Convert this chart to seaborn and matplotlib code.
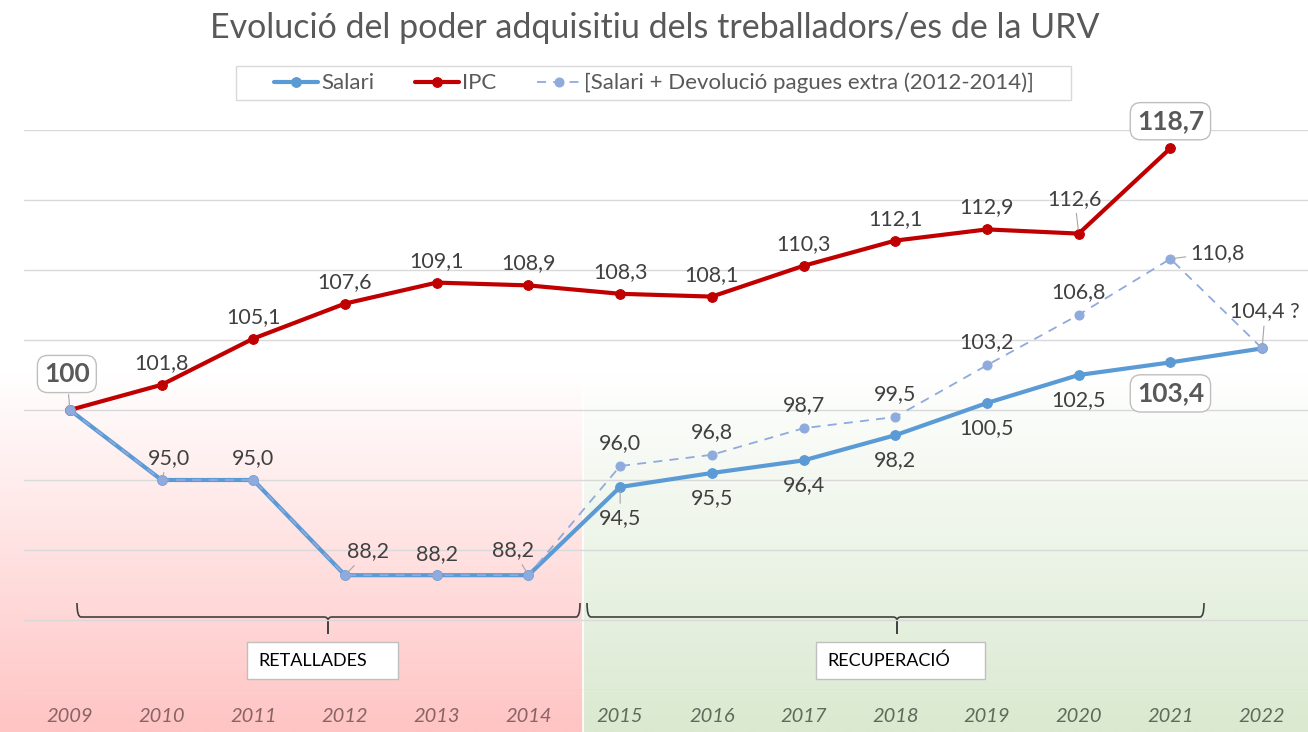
import numpy as np
import matplotlib
matplotlib.use('Agg')
import matplotlib.pyplot as plt
import matplotlib.colors as mcolors
import seaborn as sns
from matplotlib.path import Path
from matplotlib.patches import PathPatch, Rectangle

# ---------------- data ----------------
years = list(range(2009, 2023))
salari = [100, 95.0, 95.0, 88.2, 88.2, 88.2, 94.5, 95.5, 96.4, 98.2, 100.5, 102.5, 103.4, 104.4]
ipc = [100, 101.8, 105.1, 107.6, 109.1, 108.9, 108.3, 108.1, 110.3, 112.1, 112.9, 112.6, 118.7]
salari_extra = [100, 95.0, 95.0, 88.2, 88.2, 88.2, 96.0, 96.8, 98.7, 99.5, 103.2, 106.8, 110.8, 104.4]
tick_labels = [str(y) for y in years]
series_names = ["Salari", "IPC", "[Salari + Devolució pagues extra (2012-2014)]"]
title = "Evolució del poder adquisitiu dels treballadors/es de la URV"
periods = ["RETALLADES", "RECUPERACIÓ"]

BLUE = '#5B9BD5'
RED = '#C00000'
LBLUE = '#8FAADC'
LABEL_C = '#404040'

sns.set_theme(style='white')
plt.rcParams['font.family'] = ['Lato', 'DejaVu Sans']

W, H = 1308, 732
fig = plt.figure(figsize=(W / 100, H / 100), dpi=100)
fig.patch.set_facecolor('white')

# ---------------- background (pixel coords) ----------------
bg = fig.add_axes([0, 0, 1, 1], zorder=0)
bg.axis('off')


def grad(x0, x1, y0, y1, c):
    t = np.linspace(0, 1, 256)[:, None, None]
    rgb = np.array(mcolors.to_rgb(c))[None, None, :]
    img = 1 - t * (1 - rgb)
    bg.imshow(img, extent=(x0, x1, y1, y0), aspect='auto', interpolation='bilinear')


DIV = 583
grad(0, DIV, 370, H, '#FFC4C4')
grad(DIV, W, 370, H, '#DAE9D0')
bg.plot([DIV, DIV], [390, H], color='white', lw=1.2)


def brace(x0, x1, xm, ytop, yl, yb):
    r = 4
    codes = [Path.MOVETO, Path.CURVE3, Path.CURVE3, Path.LINETO, Path.CURVE3, Path.CURVE3, Path.LINETO]
    v1 = [(x0, ytop), (x0, yl), (x0 + r, yl), (xm - r, yl), (xm, yl), (xm, yl + r), (xm, yb)]
    v2 = [(x1, ytop), (x1, yl), (x1 - r, yl), (xm + r, yl), (xm, yl), (xm, yl + r), (xm, yb)]
    for v in (v1, v2):
        bg.add_patch(PathPatch(Path(v, codes), fc='none', ec='#404040', lw=1.2))


brace(77, 580, 328, 603, 617, 634)
brace(587, 1204, 897, 603, 617, 634)

for (x0, x1), txt in zip([(247, 398), (816, 985)], periods):
    bg.add_patch(Rectangle((x0, 642), x1 - x0, 37, fc='white', ec='#BFBFBF', lw=1))
    bg.text(x0 + 11, 661, txt, ha='left', va='center', fontsize=13, color='black')

# legend frame
bg.add_patch(Rectangle((236, 66), 1071 - 236, 34, fc='white', ec='#D9D9D9', lw=1))
bg.set_xlim(0, W)
bg.set_ylim(H, 0)

# ---------------- main chart ----------------
ax = fig.add_axes([24 / W, 42 / H, 1284 / W, 560 / H], zorder=1)
ax.patch.set_alpha(0)

sns.lineplot(x=years[:len(salari)], y=salari, ax=ax, color=BLUE, lw=3.0, marker='o',
             markersize=7, markeredgecolor=BLUE, label=series_names[0], zorder=4)
sns.lineplot(x=years[:len(ipc)], y=ipc, ax=ax, color=RED, lw=3.0, marker='o',
             markersize=7, markeredgecolor=RED, label=series_names[1], zorder=3)
sns.lineplot(x=years[:len(salari_extra)], y=salari_extra, ax=ax, color=LBLUE, lw=1.3,
             linestyle=(0, (5, 4)), marker='o', markersize=6.5, markeredgecolor=LBLUE,
             label=series_names[2], zorder=5)

ax.set_xlim(2008.5, 2022.5)
ax.set_ylim(80, 120)
ax.set_yticks(np.arange(80, 121, 5))
ax.set_yticklabels([])
ax.set_xticks(years)
ax.set_xticklabels(tick_labels, fontstyle='italic', fontsize=14.5)
for i, t in enumerate(ax.get_xticklabels()):
    t.set_color('#8A6464' if years[i] <= 2014 else '#5F6A5A')
ax.tick_params(axis='both', length=0)
ax.tick_params(axis='x', pad=13)
ax.grid(axis='y', color='#D9D9D9', lw=1)
ax.grid(axis='x', visible=False)
sns.despine(ax=ax, left=True, bottom=True)
ax.set_xlabel('')
ax.set_ylabel('')


def fmt(v):
    return f"{v:.1f}".replace('.', ',')


def lab(x, y, text, dx, dy, leader=False, ha='center', boxed=False):
    kw = dict(textcoords='offset pixels', ha=ha, va='center', zorder=7,
              fontsize=15.5, color=LABEL_C)
    if leader:
        kw['arrowprops'] = dict(arrowstyle='-', color='#A6A6A6', lw=0.8, shrinkA=1, shrinkB=3)
    if boxed:
        kw.update(fontsize=19, fontweight='bold', color='#595959',
                  bbox=dict(boxstyle='round,pad=0.25,rounding_size=0.4', fc='white',
                            ec='#BFBFBF', lw=1))
    ax.annotate(text, (x, y), xytext=(dx, dy), **kw)


# IPC labels
for i, v in enumerate(ipc):
    x = years[i]
    if i == 0:
        lab(x, v, "100", -3, 36, leader=True, boxed=True)
    elif i == len(ipc) - 1:
        lab(x, v, fmt(v), 0, 27, boxed=True)
    elif i == 11:
        lab(x, v, fmt(v), -4, 35, leader=True)
    else:
        lab(x, v, fmt(v), 0, 22)

# Salari labels (below)
for i in range(6, 13):
    x, v = years[i], salari[i]
    if i == 12:
        lab(x, v, fmt(v), 0, -31, boxed=True)
    elif i == 6:
        lab(x, v, fmt(v), 0, -31, leader=True)
    else:
        lab(x, v, fmt(v), 0, -25)

# Salari + extra labels
extra_off = {1: (7, 22, True), 2: (0, 22, False), 3: (23, 24, True), 4: (0, 21, False),
             5: (-15, 25, True)}
for i in range(1, len(salari_extra)):
    x, v = years[i], salari_extra[i]
    if i in extra_off:
        dx, dy, ld = extra_off[i]
        lab(x, v, fmt(v), dx, dy, leader=ld)
    elif i == 12:
        lab(x, v, fmt(v), 20, 6, leader=True, ha='left')
    elif i == 13:
        lab(x, v, fmt(v) + " ?", 3, 37, leader=True)
    else:
        lab(x, v, fmt(v), 0, 23)

# legend (frame drawn separately to match the wide box)
leg = ax.legend(loc='center', bbox_to_anchor=(654 / W, 1 - 83 / H), bbox_transform=fig.transFigure,
                ncol=3, frameon=False, fontsize=16,
                handlelength=2.0, columnspacing=1.8, handletextpad=0.15, borderpad=0.35,
                borderaxespad=0)
for t in leg.get_texts():
    t.set_color('#595959')

# title
fig.text(655 / W, 1 - 38 / H, title, ha='center', va='baseline', fontsize=24.5, color='#595959')

fig.savefig('out.png', dpi=100)
